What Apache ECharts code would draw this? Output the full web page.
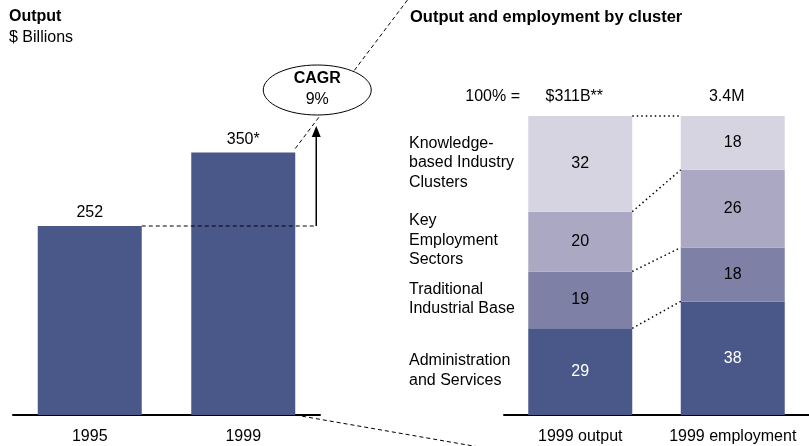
<!DOCTYPE html>
<html>
<head>
<meta charset="utf-8">
<script src="https://cdn.jsdelivr.net/npm/echarts@6/dist/echarts.min.js"></script>
<style>
html, body { margin: 0; padding: 0; background: #fff; }
#chart { width: 809px; height: 446px; }
</style>
</head>
<body>
<div id="chart"></div>
<script>
// left panel: total output, $ billions
const years = ['1995', '1999']
const outputValues = [252, 350]
const outputLabels = ['252', '350*']
const cagrText = '9%'

// right panel: share by cluster (%)
const mixCategories = ['1999 output', '1999 employment']
const mixTotals = ['$311B**', '3.4M']
const clusters = ['Administration and Services', 'Traditional Industrial Base', 'Key Employment Sectors', 'Knowledge-based Industry Clusters']
const clusterLabels = ['Administration\nand Services', 'Traditional\nIndustrial Base', 'Key\nEmployment\nSectors', 'Knowledge-\nbased Industry\nClusters']
const adminServices = [29, 38]
const traditionalBase = [19, 18]
const keyEmployment = [20, 26]
const knowledgeClusters = [32, 18]

const clusterData = [adminServices, traditionalBase, keyEmployment, knowledgeClusters]
const clusterColors = ['#4a5889', '#7e80a6', '#aba8c3', '#d7d4e2']
const FONT = 'Liberation Sans, Arial, sans-serif'
const BAR_W = 104

const chart = echarts.init(document.getElementById('chart'))

const axisX = (grid, data) => ({
  type: 'category',
  gridIndex: grid,
  data: data,
  axisTick: { show: false },
  axisLine: { lineStyle: { color: '#000', width: 2 } },
  axisLabel: { color: '#000', fontSize: 16, fontFamily: FONT, margin: 14, interval: 0, hideOverlap: false }
})

const series = [{
  type: 'bar',
  xAxisIndex: 0,
  yAxisIndex: 0,
  data: outputValues,
  barWidth: BAR_W,
  itemStyle: { color: clusterColors[0] },
  label: {
    show: true,
    position: 'top',
    distance: 5,
    color: '#000',
    fontSize: 16,
    fontFamily: FONT,
    formatter: (p) => outputLabels[p.dataIndex]
  }
}]
clusters.forEach((name, i) => {
  series.push({
    type: 'bar',
    name: name,
    xAxisIndex: 1,
    yAxisIndex: 1,
    stack: 'mix',
    data: clusterData[i],
    barWidth: BAR_W,
    itemStyle: { color: clusterColors[i] },
    label: {
      show: true,
      position: 'inside',
      color: i === 0 ? '#fff' : '#000',
      fontSize: 16,
      fontFamily: FONT
    }
  })
})

chart.setOption({
  animation: false,
  textStyle: { fontFamily: FONT },
  grid: [
    { left: 13, width: 307, top: 115, bottom: 31 },
    { left: 504, right: 0, top: 116, bottom: 31 }
  ],
  xAxis: [axisX(0, years), axisX(1, mixCategories)],
  yAxis: [
    { type: 'value', gridIndex: 0, min: 0, max: 400, show: false },
    { type: 'value', gridIndex: 1, min: 0, max: 100, show: false }
  ],
  series: series
})

// annotations placed from the axes' own scales
const px = (grid, cat, val) => chart.convertToPixel({ xAxisIndex: grid, yAxisIndex: grid }, [cat, val])
const half = BAR_W / 2
const g = []
const txt = (x, y, text, opt) => g.push({
  type: 'text', x: x, y: y, z: 20,
  style: Object.assign({ text: text, fill: '#000', font: '16px ' + FONT, textVerticalAlign: 'middle' }, opt || {})
})

// titles
txt(9, 17, 'Output', { font: 'bold 16px ' + FONT })
txt(9, 38, '$ Billions')
txt(410, 17, 'Output and employment by cluster', { font: 'bold 16.5px ' + FONT })

// left panel growth marks
const b95 = px(0, years[0], outputValues[0])
const b99 = px(0, years[1], outputValues[1])
const base99 = px(0, years[1], 0)
const arrowX = b99[0] + half + 21
g.push({ type: 'line', z: 5, shape: { x1: b95[0] + half, y1: b95[1], x2: arrowX, y2: b95[1] }, style: { stroke: '#000', lineWidth: 1, lineDash: [4, 3] } })
g.push({ type: 'line', z: 5, shape: { x1: arrowX, y1: b95[1], x2: arrowX, y2: 136 }, style: { stroke: '#000', lineWidth: 1.5 } })
g.push({ type: 'polygon', z: 5, shape: { points: [[arrowX, 126], [arrowX - 4.5, 137], [arrowX + 4.5, 137]] }, style: { fill: '#000' } })

// diagonal dashed zoom lines
const cx = b99[0] + half, cy = b99[1]
const slope = 112 / 152
g.push({ type: 'line', z: 4, shape: { x1: cx, y1: cy - 4, x2: cx + (cy + 6) * slope, y2: -6 }, style: { stroke: '#000', lineWidth: 1, lineDash: [4, 3] } })
g.push({ type: 'line', z: 4, shape: { x1: base99[0] + half, y1: base99[1], x2: base99[0] + half + 210, y2: base99[1] + 210 * 31 / 178 }, style: { stroke: '#000', lineWidth: 1, lineDash: [4, 3] } })

// CAGR bubble
g.push({ type: 'ellipse', z: 10, shape: { cx: arrowX + 1, cy: 90, rx: 54, ry: 25 }, style: { fill: '#fff', stroke: '#000', lineWidth: 1 } })
txt(arrowX + 1, 79, 'CAGR', { font: 'bold 16px ' + FONT, textAlign: 'center' })
txt(arrowX + 1, 100, cagrText, { textAlign: 'center' })

// right panel totals
txt(520, 97, '100% =', { textAlign: 'right' })
mixCategories.forEach((c, i) => {
  const p = px(1, c, 100)
  txt(p[0] - 6, 97, mixTotals[i], { textAlign: 'center' })
})

// cluster names, centred on the output bar segments
let acc = 0
clusters.forEach((name, i) => {
  const v = clusterData[i][0]
  const mid = px(1, mixCategories[0], acc + v / 2)
  acc += v
  const lines = clusterLabels[i].split('\n')
  lines.forEach((line, j) => {
    txt(409, mid[1] + (j - (lines.length - 1) / 2) * 19.5 - 1, line)
  })
})

// dotted connectors joining segment tops of the two bars
let accA = 0, accB = 0
clusters.forEach((name, i) => {
  accA += clusterData[i][0]
  accB += clusterData[i][1]
  const a = px(1, mixCategories[0], accA)
  const b = px(1, mixCategories[1], accB)
  g.push({ type: 'line', z: 5, shape: { x1: a[0] + half, y1: a[1], x2: b[0] - half, y2: b[1] }, style: { stroke: '#000', lineWidth: 1.5, lineDash: [1.5, 3] } })
})

chart.setOption({ graphic: g })
</script>
</body>
</html>
